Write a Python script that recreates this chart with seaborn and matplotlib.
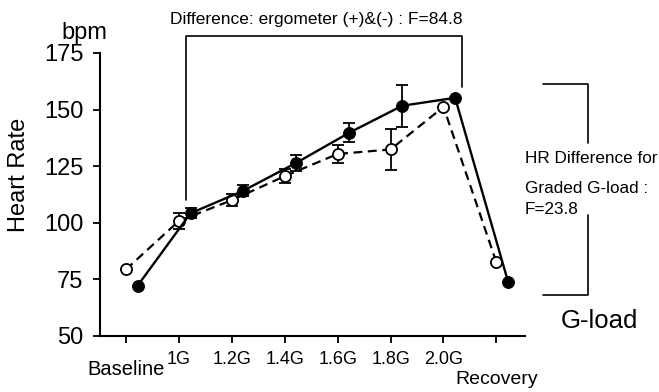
import numpy as np
import pandas as pd
import matplotlib
matplotlib.use("Agg")
import matplotlib.pyplot as plt
import seaborn as sns

sns.set_style("ticks")
plt.rcParams['font.family'] = ['Liberation Sans', 'DejaVu Sans']
plt.rcParams.update({'text.color': 'black', 'axes.labelcolor': 'black',
                     'xtick.color': 'black', 'ytick.color': 'black',
                     'axes.edgecolor': 'black'})

# data
stages = ['Baseline', '1G', '1.2G', '1.4G', '1.6G', '1.8G', '2.0G', 'Recovery']
hr_plus = [72.2, 104.2, 114.2, 126.5, 139.8, 151.7, 155.2, 74.0]     # filled, solid
err_plus = [0, 2.2, 2.5, 3.5, 4.3, 9.3, 0, 0]
hr_minus = [79.4, 100.8, 110.0, 120.6, 130.4, 132.4, 151.2, 82.5]   # open, dashed
err_minus = [0, 3.7, 2.5, 3.1, 4.0, 9.2, 0, 0]

pos = np.arange(len(stages))
df = pd.DataFrame({
    'x': np.concatenate([pos, pos + 0.22]),
    'hr': hr_minus + hr_plus,
    'err': err_minus + err_plus,
    'series': ['minus'] * len(stages) + ['plus'] * len(stages),
})

fig = plt.figure(figsize=(6.59, 3.92), dpi=100)
ax = fig.add_axes([100/659, 56/392, 425/659, 283/392])

minus = df[df.series == 'minus']
plus = df[df.series == 'plus']

ax.errorbar(minus.x, minus.hr, yerr=minus.err, fmt='none', ecolor='black',
            elinewidth=1.3, capsize=4.5, capthick=1.3, zorder=2)
ax.errorbar(plus.x, plus.hr, yerr=plus.err, fmt='none', ecolor='black',
            elinewidth=1.3, capsize=4.5, capthick=1.3, zorder=2)

sns.lineplot(data=minus, x='x', y='hr', ax=ax, color='black', lw=1.6,
             marker='o', markersize=8, markerfacecolor='white',
             markeredgecolor='black', markeredgewidth=1.3, zorder=3)
ax.lines[-1].set_dashes((4, 2.5))
sns.lineplot(data=plus, x='x', y='hr', ax=ax, color='black', lw=1.7,
             marker='o', markersize=8.5, markerfacecolor='black',
             markeredgecolor='black', zorder=4)

ax.set_xlim(-0.49, 7.54)
ax.set_ylim(50, 175)
ax.set_yticks([50, 75, 100, 125, 150, 175])
ax.set_xticks(pos)
ax.set_xticklabels([''] + stages[1:-1] + [''])
sns.despine(ax=ax)
for s in ['left', 'bottom']:
    ax.spines[s].set_linewidth(1.5)
ax.tick_params(axis='y', labelsize=17, length=5, width=1.3, pad=7)
ax.tick_params(axis='x', labelsize=13, length=5, width=1.3, pad=6)
ax.set_xlabel('')
ax.set_ylabel('Heart Rate', fontsize=17)
ax.yaxis.set_label_coords(-0.165, 0.57)

ax.text(0, 50 - 34 / 2.265, 'Baseline', ha='center', va='center', fontsize=14.5, clip_on=False)
ax.text(7, 50 - 44 / 2.265, 'Recovery', ha='center', va='center', fontsize=14, clip_on=False)
fig.text(84/659, 1 - 33/392, 'bpm', ha='center', va='center', fontsize=17)

# top bracket
ax.plot([1.13, 1.13, 6.35, 6.35], [110, 182.5, 182.5, 160], color='black', lw=1.2, clip_on=False)
ax.text(3.59, 190, 'Difference: ergometer (+)&(-) : F=84.8', ha='center', va='center',
        fontsize=12.5, clip_on=False)

# right bracket
ax.plot([7.88, 8.73, 8.73], [161.3, 161.3, 135.3], color='black', lw=1.2, clip_on=False)
ax.plot([8.73, 8.73, 7.88], [103.4, 68.1, 68.1], color='black', lw=1.2, clip_on=False)
ax.text(7.54, 50 + (336 - 158) / 2.265, 'HR Difference for', ha='left', va='center', fontsize=12.3, clip_on=False)
ax.text(7.54, 50 + (336 - 188) / 2.265, 'Graded G-load :', ha='left', va='center', fontsize=12.3, clip_on=False)
ax.text(7.54, 50 + (336 - 209) / 2.265, 'F=23.8', ha='left', va='center', fontsize=12.3, clip_on=False)
ax.text(8.94, 50 + (336 - 321) / 2.265, 'G-load', ha='center', va='center', fontsize=18.5, clip_on=False)

fig.savefig('out.png', dpi=100)
